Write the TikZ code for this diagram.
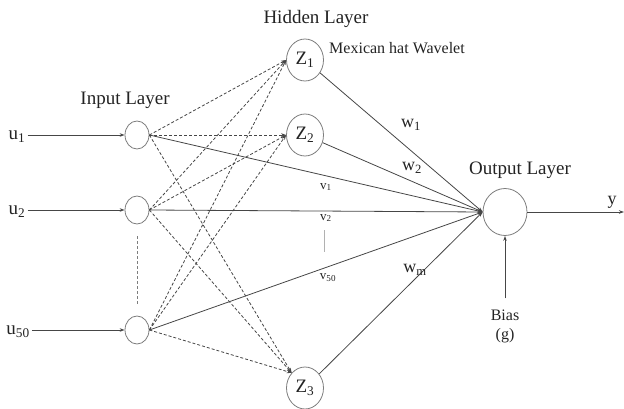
\documentclass[tikz,border=0pt]{standalone}
\usepackage{fontspec}
\setmainfont{Liberation Serif}
\usetikzlibrary{arrows.meta, positioning, shapes.geometric}
\definecolor{LineGray}{RGB}{70, 70, 70}
\definecolor{RingGray}{RGB}{125, 125, 125}
\definecolor{InkGray}{RGB}{35, 35, 35}

\begin{document}
\begin{tikzpicture}[x=1pt, y=-1pt, >={Stealth[length=5pt, width=3.5pt]},
    every node/.style={font=\fontsize{19}{21}\selectfont, text=InkGray, inner sep=0pt},
    link/.style={draw=LineGray, line width=0.8pt},
    dlink/.style={link, dash pattern=on 3pt off 2pt},
    neuron/.style={ellipse, draw=RingGray, line width=0.8pt, minimum width=24pt, minimum height=28pt},
    hidden/.style={neuron, minimum width=37pt, minimum height=42pt},
    weight/.style={font=\fontsize{13}{15}\selectfont}]
    \useasboundingbox (0,0) rectangle (624,409);

    % input layer
    \node[neuron] (in1) at (137,135) {};
    \node[neuron] (in2) at (137,210) {};
    \node[neuron] (in3) at (137,330) {};
    \node (u1) at (17,137) {u\textsubscript{1}};
    \node (u2) at (17,212) {u\textsubscript{2}};
    \node (u50) at (18,332) {u\textsubscript{50}};
    \node at (125,100) {Input Layer};
    \foreach \u/\n in {u1/in1, u2/in2, u50/in3}
        \draw[link, ->] ([xshift=2pt]\u.east |- \n) -- (\n);
    \draw[dlink, draw=RingGray] ([yshift=-12pt]in2.south) -- ([yshift=11pt]in3.north);

    % hidden layer
    \node[hidden] (z1) at (305,60) {Z\textsubscript{1}};
    \node[hidden] (z2) at (305,135) {Z\textsubscript{2}};
    \node[hidden] (z3) at (305,388) {Z\textsubscript{3}};
    \node at (316,19) {Hidden Layer};
    \node[font=\fontsize{16}{18}\selectfont] at (397,48) {Mexican hat Wavelet};

    % output layer
    \node[neuron, minimum width=44pt, minimum height=47pt] (out) at (505,212) {};
    \node at (520,170) {Output Layer};
    \coordinate (yend) at (624,212);
    \draw[link, ->] (out) -- (yend);
    \node[font=\fontsize{18}{20}\selectfont] at (612,202) {y};
    \node[font=\fontsize{16}{18}\selectfont] (bias) at (505,315) {Bias};
    \node[font=\fontsize{16}{18}\selectfont, below=8pt of bias] (g) {(g)};
    \draw[link, ->] ([yshift=11pt]bias.north) -- (out.south);

    % connections
    \foreach \i in {in1, in2, in3} {
        \foreach \z in {z1.west, z2.west, z3.north west}
            \draw[dlink, ->] (\i.east) -- (\z);
        \draw[link, ->] (\i.east) -- (out.west);
    }
    \foreach \z in {z1, z2, z3}
        \draw[link, ->] (\z) -- (out.west);

    % weight labels
    \node[font=\fontsize{18}{20}\selectfont] at (411,125) {w\textsubscript{1}};
    \node[font=\fontsize{18}{20}\selectfont] at (412,168) {w\textsubscript{2}};
    \node[font=\fontsize{18}{20}\selectfont] at (415,270) {w\textsubscript{m}};
    \node[weight] at (326,187) {v\textsubscript{1}};
    \node[weight] (v2) at (326,218) {v\textsubscript{2}};
    \node[weight] at (328,278) {v\textsubscript{50}};
    \draw[draw=RingGray!60, line width=0.6pt] (324,230) -- (324,252);
\end{tikzpicture}
\end{document}
